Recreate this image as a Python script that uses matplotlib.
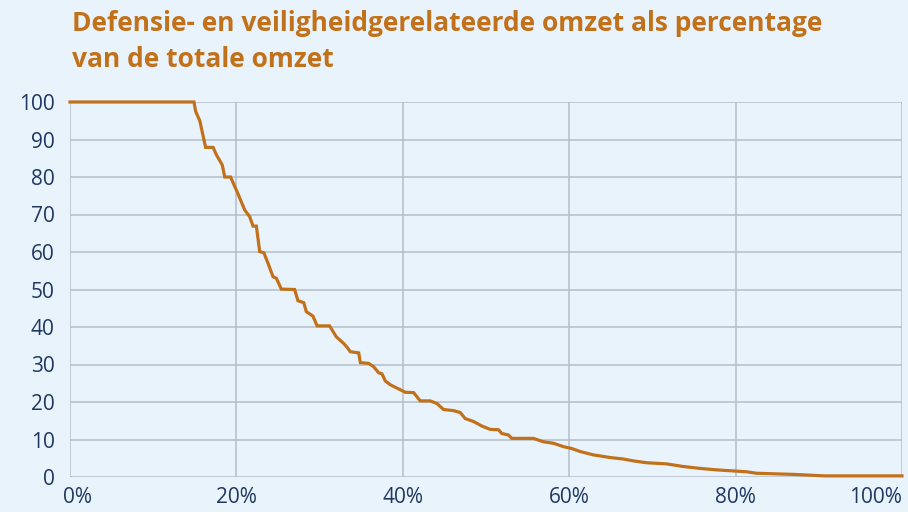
import matplotlib.pyplot as plt
import matplotlib.transforms as mtransforms

# share of companies (x, %) vs defence/security share of turnover (y, %)
share_companies = [0, 14.9, 15.1, 15.6, 16.3, 17.2, 17.6, 18.3, 18.6, 19.3, 20.0, 21.0,
                   21.6, 22.0, 22.4, 22.8, 23.3, 23.8, 24.4, 24.8, 25.4, 27.0, 27.4,
                   28.1, 28.4, 29.2, 29.7, 31.2, 32.0, 32.9, 33.3, 33.7, 34.7, 34.9,
                   35.9, 36.5, 37.1, 37.5, 37.9, 38.5, 39.3, 40.3, 41.3, 42.1, 43.3,
                   44.1, 44.9, 46.1, 46.9, 47.5, 48.5, 49.5, 50.5, 51.5, 51.9, 52.7,
                   53.1, 55.7, 56.9, 58.1, 59.3, 60.3, 61.3, 62.9, 64.9, 66.5, 67.7,
                   69.3, 71.7, 73.7, 75.7, 77.7, 81.3, 82.5, 86.9, 90.7, 100]
share_turnover = [100, 100, 97.5, 95, 87.9, 87.9, 85.9, 83.2, 80, 80, 76.5, 71.2,
                  69.4, 66.9, 66.9, 60.1, 59.8, 57, 53.4, 53, 50.1, 50, 47,
                  46.5, 44.1, 42.9, 40.3, 40.3, 37.4, 35.6, 34.6, 33.4, 33.1, 30.5,
                  30.3, 29.4, 27.8, 27.5, 25.6, 24.6, 23.7, 22.6, 22.5, 20.3, 20.3,
                  19.6, 18.0, 17.7, 17.2, 15.6, 14.8, 13.6, 12.7, 12.6, 11.6, 11.2,
                  10.3, 10.3, 9.4, 9.0, 8.1, 7.6, 6.8, 5.9, 5.2, 4.8, 4.3,
                  3.8, 3.5, 2.8, 2.3, 1.9, 1.4, 1.0, 0.7, 0.3, 0.3]

x_ticks = [0, 20, 40, 60, 80, 100]
x_labels = ['0%', '20%', '40%', '60%', '80%', '100%']
y_ticks = [0, 10, 20, 30, 40, 50, 60, 70, 80, 90, 100]

bg = '#e9f3fc'
orange = '#c2711b'
navy = '#1f3761'

plt.rcParams['font.family'] = ['Open Sans', 'DejaVu Sans']

fig = plt.figure(figsize=(9.08, 5.12), dpi=100, facecolor=bg)
ax = fig.add_axes([70 / 908, 1 - 477 / 512, 832 / 908, 375 / 512], facecolor=bg)

ax.plot(share_companies, share_turnover, color=orange, lw=2.3,
        solid_joinstyle='miter', zorder=3, clip_on=False)

ax.set_xlim(0, 100)
ax.set_ylim(0, 100)
ax.set_xticks(x_ticks)
ax.set_xticklabels(x_labels)
ax.set_yticks(y_ticks)
ax.grid(True, color='#b5bec8', lw=1.1)
ax.set_axisbelow(True)
for s in ax.spines.values():
    s.set_visible(False)
ax.tick_params(length=0, labelsize=15, colors=navy)
ax.tick_params(axis='y', pad=11)
ax.tick_params(axis='x', pad=7)

xl = ax.get_xticklabels()
xl[0].set_transform(xl[0].get_transform() + mtransforms.ScaledTranslation(8 / 100, 0, fig.dpi_scale_trans))
xl[-1].set_ha('right')

fig.text(72 / 908, 1 - 10 / 512,
         'Defensie- en veiligheidgerelateerde omzet als percentage\nvan de totale omzet',
         ha='left', va='top', fontsize=19, fontweight='bold', color=orange,
         linespacing=1.42)

fig.savefig('out.png', dpi=100, facecolor=bg)
